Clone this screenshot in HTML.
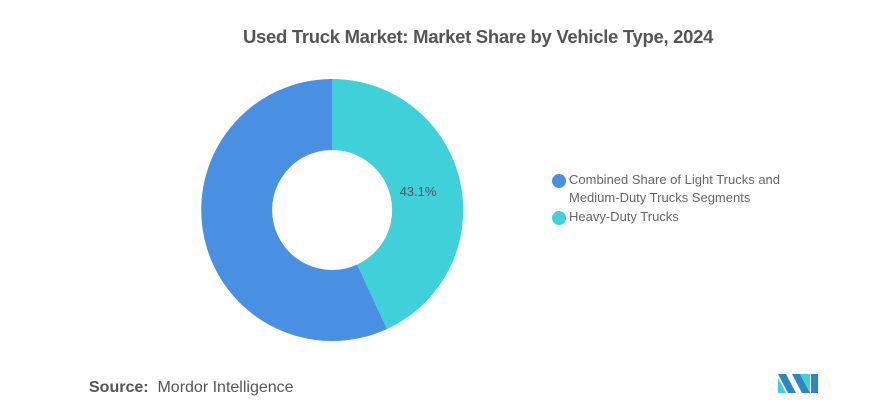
<!DOCTYPE html>
<html><head><meta charset="utf-8"><style>
body{margin:0;width:881px;height:420px;background:#fff;font-family:"Liberation Sans",sans-serif;overflow:hidden;position:relative}
.t{position:absolute;top:26px;left:243px;white-space:nowrap;font-size:18.5px;font-weight:bold;color:#555;letter-spacing:-0.3px}
.lg{position:absolute;left:552px;font-size:13px;color:#666;line-height:18px}
.dot{position:absolute;left:552px;width:14px;height:14px;border-radius:50%}
.src{position:absolute;left:89px;top:379px;font-size:16px;color:#555}
</style></head><body>
<div class="t">Used Truck Market: Market Share by Vehicle Type, 2024</div>
<svg width="881" height="420" style="position:absolute;left:0;top:0">
<path d="M332 79 A131 131 0 1 0 387 329 L357.2 264.5 A60 60 0 1 1 332 150 Z" fill="#4a90e2"/>
<path d="M332 79 A131 131 0 0 1 387 329 L357.2 264.5 A60 60 0 0 0 332 150 Z" fill="#40d0da"/>
<text x="418" y="196" font-size="13" fill="#555" text-anchor="middle" font-family="Liberation Sans">43.1%</text>
<g transform="translate(778,374)">
<polygon points="0,0 8,0 18,19 10,19" fill="#2e86c1"/><polygon points="0,4 8,19 0,19" fill="#40d0da"/>
<polygon points="14,0 22,0 32,19 24,19" fill="#2e86c1"/><polygon points="22,0 32,0 32,19" fill="#40d0da"/>
<rect x="33" y="0" width="7" height="19" fill="#2e86c1"/>
</g>
</svg>
<div class="dot" style="top:174px;background:#4a90e2"></div>
<div class="lg" style="left:569px;top:171px">Combined Share of Light Trucks and<br>Medium-Duty Trucks Segments</div>
<div class="dot" style="top:211px;background:#40d0da"></div>
<div class="lg" style="left:569px;top:208px">Heavy-Duty Trucks</div>
<div class="src"><b>Source:</b>&nbsp; Mordor Intelligence</div>
</body></html>
